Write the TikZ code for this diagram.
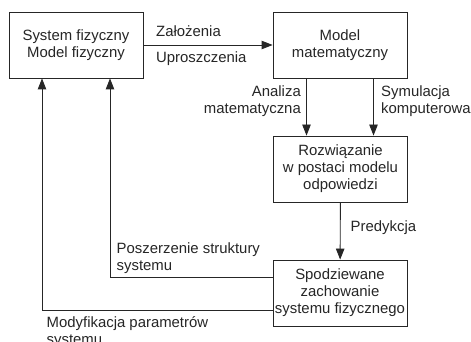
\documentclass[tikz,border=0pt]{standalone}
\usepackage{fontspec}
\setmainfont{Liberation Sans}
\usetikzlibrary{arrows.meta}
\begin{document}
\begin{tikzpicture}[x=1pt,y=-1pt,
  every node/.style={font=\fontsize{14.9}{17}\selectfont, inner sep=0pt, text=black!85},
  blk/.style={draw=black!85, line width=0.9pt, minimum width=134pt, minimum height=66pt, align=center},
  lbl/.style={align=left},
  arr/.style={draw=black!85, line width=0.9pt, -{Triangle[length=11pt,width=8.5pt]}}]
\useasboundingbox (0,0) rectangle (471,342);
\clip (0,0) rectangle (471,342);
\fill[white] (0,0) rectangle (471,342);
\node[blk] (b1) at (76,45) {System fizyczny\\Model fizyczny};
\node[blk] (b2) at (340,45) {Model\\matematyczny};
\node[blk] (b3) at (340.5,169) {Rozwiązanie\\w postaci modelu\\odpowiedzi};
\node[blk] (b4) at (340,293) {Spodziewane\\zachowanie\\systemu fizycznego};
\draw[arr] (b1) -- (b2);
\node[lbl, anchor=base west] (l1) at (156,37) {Założenia};
\node[lbl, anchor=base west] (l2) at (156,63) {Uproszczenia};
\coordinate (c1) at (306.5,0);
\coordinate (c2) at (373.5,0);
\draw[arr] (c1 |- b2.south) -- (c1 |- b3.north);
\draw[arr] (c2 |- b2.south) -- (c2 |- b3.north);
\node[align=right, anchor=base east] (l3) at (301,113.3) {Analiza\\matematyczna};
\node[align=left, anchor=base west] (l4) at (381,113.3) {Symulacja\\komputerowa};
\draw[arr] (b3) -- (b4);
\node[lbl, anchor=base west] (l5) at (350.5,231.7) {Predykcja};
\coordinate (p1) at (110,277);
\coordinate (p2) at (42,310);
\draw[arr] (b4.west |- p1) -- (p1) -- (p1 |- b1.south);
\draw[arr] (b4.west |- p2) -- (p2) -- (p2 |- b1.south);
\node[lbl, anchor=base west] (l6) at (116.5,270.7) {Poszerzenie struktury\\systemu};
\node[lbl, anchor=base west] (l7) at (46.5,344) {Modyfikacja parametrów\\systemu};
\end{tikzpicture}
\end{document}
